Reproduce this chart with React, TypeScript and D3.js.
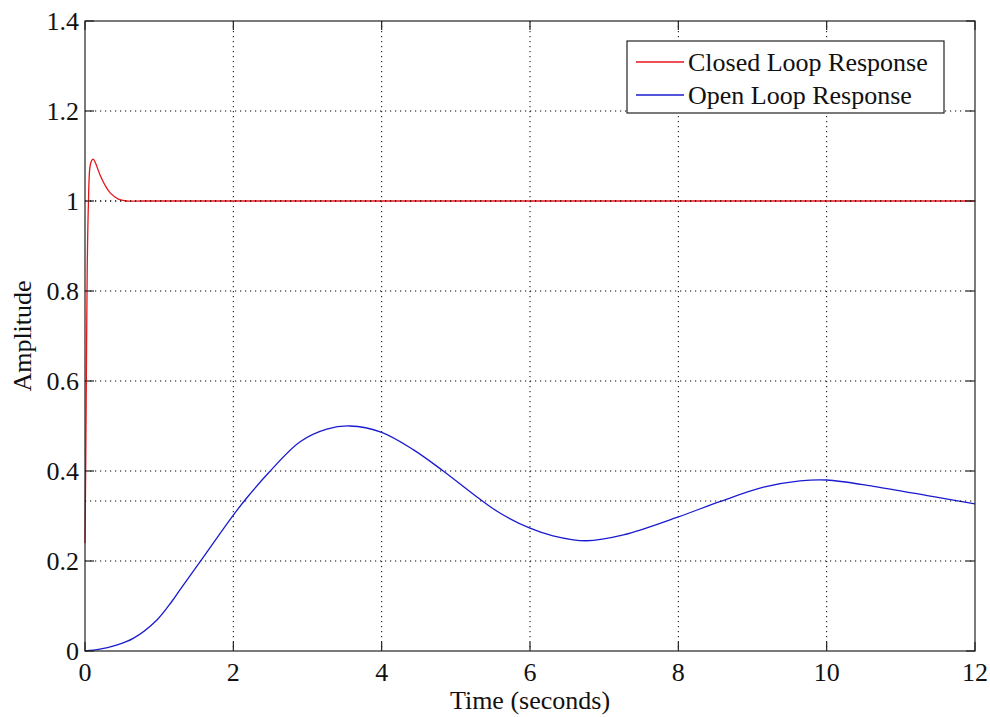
import React, { useEffect, useRef } from 'react';
import * as d3 from 'd3';

// open loop step response
const openTime = [0, 0.2, 0.4, 0.65, 0.97, 1.17, 1.28, 1.55, 2.0, 2.18, 2.47, 2.9, 3.26, 3.57, 4.0, 4.43, 4.83, 5.28, 5.6, 6.0, 6.31, 6.76, 7.26, 8.0, 8.56, 9.15, 9.64, 10.0, 10.63, 11.44, 12];
const openValue = [0, 0.004, 0.012, 0.028, 0.069, 0.11, 0.136, 0.198, 0.302, 0.34, 0.395, 0.465, 0.493, 0.5, 0.486, 0.447, 0.4, 0.343, 0.306, 0.273, 0.256, 0.245, 0.258, 0.298, 0.332, 0.364, 0.378, 0.38, 0.366, 0.343, 0.327];

// closed loop step response
const closedTime = [0, 0.01, 0.02, 0.03, 0.045, 0.067, 0.09, 0.11, 0.14, 0.2, 0.27, 0.34, 0.45, 0.56, 0.8, 12];
const closedValue = [0.24, 0.42, 0.65, 0.85, 0.987, 1.076, 1.09, 1.093, 1.085, 1.059, 1.035, 1.018, 1.004, 1.0, 1.0, 1.0];

// final values (dotted steady-state lines)
const steadyValues = [1, 1 / 3];

const xTicks = [0, 2, 4, 6, 8, 10, 12];
const yTicks = [0, 0.2, 0.4, 0.6, 0.8, 1, 1.2, 1.4];
const seriesNames = ['Closed Loop Response', 'Open Loop Response'];
const seriesColors = ['#e8141b', '#1a1ad0'];

const FONT = '"Liberation Serif", "Times New Roman", serif';

function App() {
  const svgRef = useRef(null);

  useEffect(() => {
    const width = 990;
    const height = 717;
    const margin = { top: 21, right: 15, bottom: 66, left: 85 };
    const innerW = width - margin.left - margin.right;
    const innerH = height - margin.top - margin.bottom;

    const svg = d3.select(svgRef.current).attr('width', width).attr('height', height);
    svg.selectAll('*').remove();
    svg.append('rect').attr('width', width).attr('height', height).attr('fill', '#fff');

    const g = svg.append('g').attr('transform', `translate(${margin.left},${margin.top})`);

    const x = d3.scaleLinear().domain([0, 12]).range([0, innerW]);
    const y = d3.scaleLinear().domain([0, 1.4]).range([innerH, 0]);

    // grid
    const grid = g.append('g').attr('stroke', '#000').attr('stroke-width', 1).attr('stroke-dasharray', '1.2,3.8');
    xTicks.slice(1, -1).forEach((t) => {
      grid.append('line').attr('x1', x(t)).attr('x2', x(t)).attr('y1', 0).attr('y2', innerH);
    });
    yTicks.slice(1, -1).forEach((t) => {
      grid.append('line').attr('x1', 0).attr('x2', innerW).attr('y1', y(t)).attr('y2', y(t));
    });

    const line = d3
      .line()
      .x((d) => x(d[0]))
      .y((d) => y(d[1]))
      .curve(d3.curveCatmullRom.alpha(0.5));

    const closed = closedTime.map((t, i) => [t, closedValue[i]]);
    const open = openTime.map((t, i) => [t, openValue[i]]);

    g.append('path').attr('d', line(closed)).attr('fill', 'none').attr('stroke', seriesColors[0]).attr('stroke-width', 1.3);
    g.append('path').attr('d', line(open)).attr('fill', 'none').attr('stroke', seriesColors[1]).attr('stroke-width', 1.3);

    // steady-state lines
    steadyValues.forEach((v) => {
      g.append('line')
        .attr('x1', 0)
        .attr('x2', innerW)
        .attr('y1', y(v))
        .attr('y2', y(v))
        .attr('stroke', '#000')
        .attr('stroke-dasharray', '1.2,3.8');
    });

    // box + inward ticks on all sides
    g.append('rect').attr('width', innerW).attr('height', innerH).attr('fill', 'none').attr('stroke', '#222').attr('stroke-width', 1.2);
    const tl = 9;
    const ticks = g.append('g').attr('stroke', '#222').attr('stroke-width', 1.2);
    xTicks.forEach((t) => {
      ticks.append('line').attr('x1', x(t)).attr('x2', x(t)).attr('y1', innerH).attr('y2', innerH - tl);
      ticks.append('line').attr('x1', x(t)).attr('x2', x(t)).attr('y1', 0).attr('y2', tl);
    });
    yTicks.forEach((t) => {
      ticks.append('line').attr('x1', 0).attr('x2', tl).attr('y1', y(t)).attr('y2', y(t));
      ticks.append('line').attr('x1', innerW).attr('x2', innerW - tl).attr('y1', y(t)).attr('y2', y(t));
    });

    // tick labels
    const labels = g.append('g').style('font-family', FONT).style('font-size', '26px').attr('fill', '#111');
    xTicks.forEach((t) => {
      labels.append('text').attr('x', x(t)).attr('y', innerH + 30).attr('text-anchor', 'middle').text(d3.format('~g')(t));
    });
    yTicks.forEach((t) => {
      labels.append('text').attr('x', -6).attr('y', y(t)).attr('dy', '0.35em').attr('text-anchor', 'end').text(d3.format('~g')(t));
    });

    // axis titles
    g.append('text')
      .attr('x', innerW / 2)
      .attr('y', innerH + 58)
      .attr('text-anchor', 'middle')
      .style('font-family', FONT)
      .style('font-size', '26px')
      .attr('fill', '#111')
      .text('Time (seconds)');

    g.append('text')
      .attr('transform', `translate(${-margin.left + 31},${innerH / 2}) rotate(-90)`)
      .attr('text-anchor', 'middle')
      .style('font-family', FONT)
      .style('font-size', '26px')
      .attr('fill', '#111')
      .text('Amplitude');

    // legend
    const legend = svg.append('g').attr('transform', 'translate(627,41)');
    legend.append('rect').attr('width', 317).attr('height', 72).attr('fill', '#fff').attr('stroke', '#222').attr('stroke-width', 1.2);
    seriesNames.forEach((name, i) => {
      const cy = 21 + i * 33;
      legend.append('line').attr('x1', 9).attr('x2', 57).attr('y1', cy).attr('y2', cy).attr('stroke', seriesColors[i]).attr('stroke-width', 1.3);
      legend
        .append('text')
        .attr('x', 61)
        .attr('y', cy)
        .attr('dy', '0.35em')
        .style('font-family', FONT)
        .style('font-size', '26px')
        .attr('fill', '#111')
        .text(name);
    });
  }, []);

  return <svg ref={svgRef} style={{ position: 'absolute', left: 0, top: 0, display: 'block' }} />;
}

export default App;
